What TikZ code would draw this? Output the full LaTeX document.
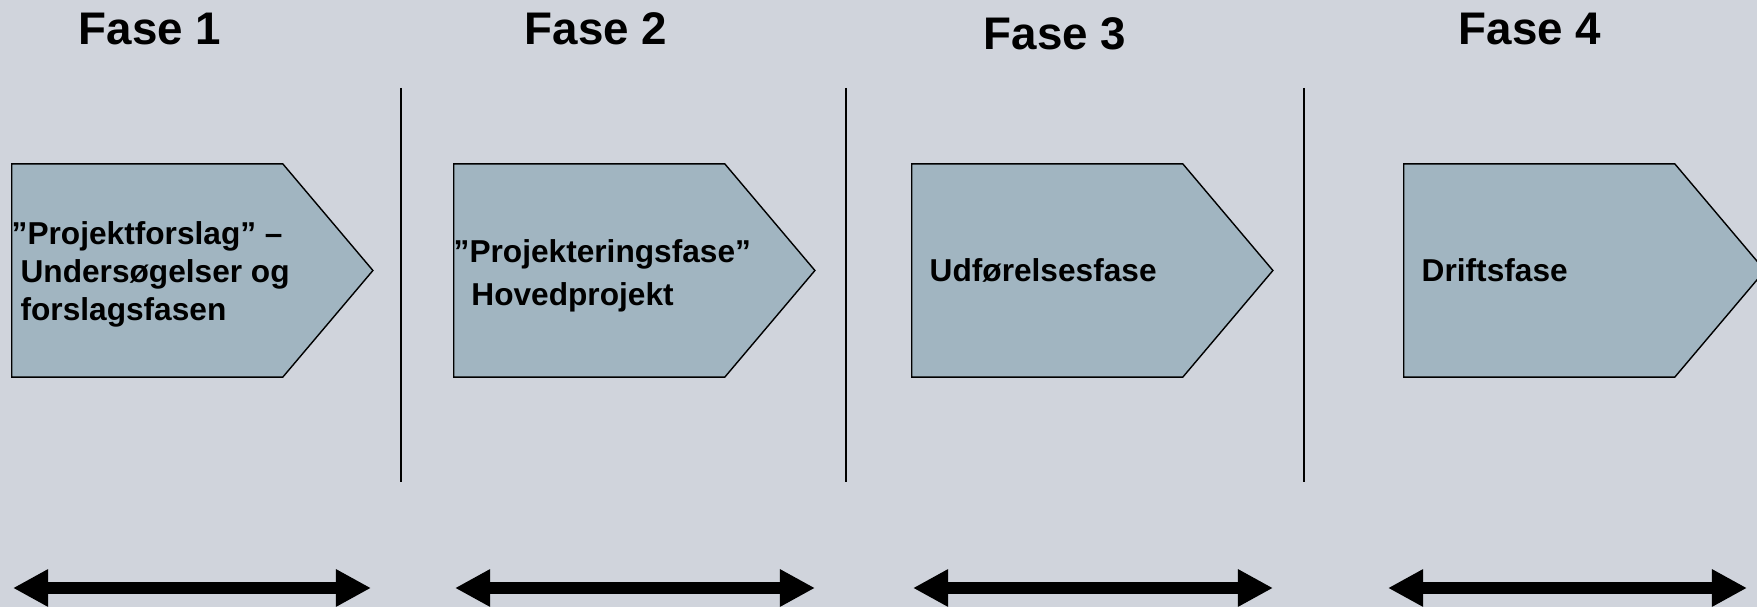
\documentclass[tikz,border=0pt]{standalone}
\usepackage{fontspec}
\setmainfont{Liberation Sans}
\usetikzlibrary{arrows.meta, shapes.symbols, positioning}

\definecolor{baggrund}{RGB}{208,212,220}
\definecolor{fasefyld}{RGB}{161,181,193}

\begin{document}
\begin{tikzpicture}[x=0.01cm, y=-0.01cm]
    % Stilarter
    \tikzset{
        fase/.style={
            signal, 
            signal to=east, 
            signal pointer angle=99.6, 
            draw=black, 
            fill=fasefyld, 
            line width=0.4pt, 
            minimum width=3.61cm, 
            minimum height=2.13cm, 
            inner sep=0pt, 
            anchor=west
        },
        overskrift/.style={font=\fontsize{13}{15.6}\selectfont\bfseries, anchor=base},
        fasetekst/.style={font=\fontsize{9}{10.8}\selectfont\bfseries, align=left, inner sep=0pt},
        skillelinje/.style={line width=0.4pt, draw=black},
        varighed/.style={{Triangle[length=0.35cm, width=0.35cm]}-{Triangle[length=0.35cm, width=0.35cm]}, line width=0.12cm, draw=black}
    }

    % Baggrund
    \fill[baggrund] (0,0) rectangle (1757,607);
    \useasboundingbox (0,0) rectangle (1757,607);

    % Overskrifter
    \node[overskrift] (h1) at (150,45) {Fase 1};
    \node[overskrift] (h2) at (596,45) {Fase 2};
    \node[overskrift] (h3) at (1055,50) {Fase 3};
    \node[overskrift] (h4) at (1530,45) {Fase 4};

    % Faser
    \node[fase] (f1) at (11,270.5) {};
    \node[fase] (f2) at (453,270.5) {};
    \node[fase] (f3) at (911,270.5) {};
    \node[fase] (f4) at (1403,270.5) {};

    \node[fasetekst, right=0pt of f1.west, yshift=-1pt] (t1) {
        ”Projektforslag” –\\
        \hspace*{0.28em}Undersøgelser og\\
        \hspace*{0.28em}forslagsfasen
    };
    \node[fasetekst, right=0pt of f2.west, yshift=-1.5pt] (t2) {
        ”Projekteringsfase”\\[0.045cm]
        \hspace*{0.56em}Hovedprojekt
    };
    \node[fasetekst, right=0.18cm of f3.west] (t3) {Udførelsesfase};
    \node[fasetekst, right=0.18cm of f4.west] (t4) {Driftsfase};

    % Skillelinjer
    \draw[skillelinje] (401,88) -- (401,482);
    \draw[skillelinje] (846,88) -- (846,482);
    \draw[skillelinje] (1304,88) -- (1304,482);

    % Varighedspile
    \coordinate (v1a) at (13,588);
    \coordinate (v1b) at (371,588);
    \coordinate (v2a) at (455,588);
    \coordinate (v2b) at (815,588);
    \coordinate (v3a) at (913,588);
    \coordinate (v3b) at (1273,588);
    \coordinate (v4a) at (1388,588);
    \coordinate (v4b) at (1747,588);

    \draw[varighed] (v1a) -- (v1b);
    \draw[varighed] (v2a) -- (v2b);
    \draw[varighed] (v3a) -- (v3b);
    \draw[varighed] (v4a) -- (v4b);

\end{tikzpicture}
\end{document}
